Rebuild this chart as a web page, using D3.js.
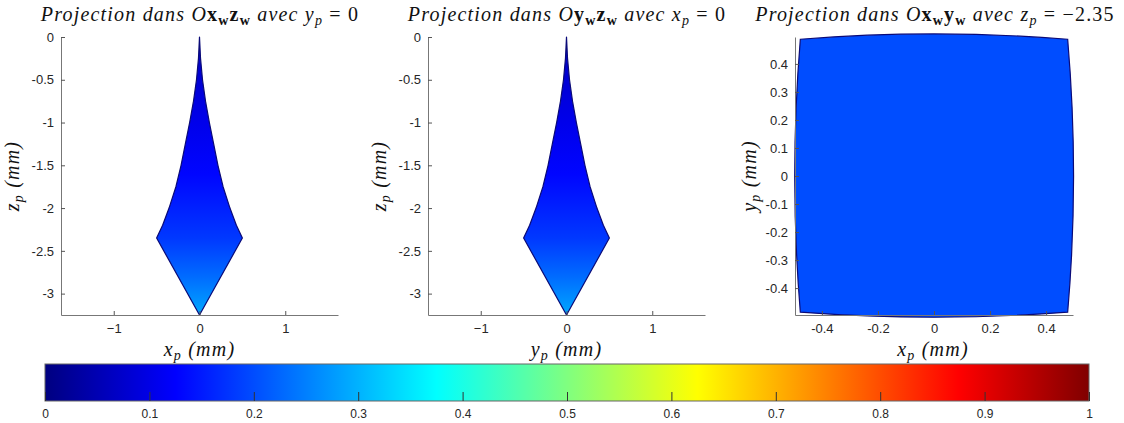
<!DOCTYPE html>
<html>
<head>
<meta charset="utf-8">
<script src="https://cdn.jsdelivr.net/npm/d3@7"></script>
<style>
  body { margin: 0; background: #fff; }
  .tick text { font-family: "Liberation Sans", Arial, sans-serif; font-size: 13px; fill: #262626; }
  .tex { font-family: "Liberation Serif", "DejaVu Serif", serif; fill: #111; }
</style>
</head>
<body>
<div id="graph"></div>
<script>
// jet colormap stops
var jetStops = [[0, '#000080'], [0.125, '#0000ff'], [0.375, '#00ffff'], [0.625, '#ffff00'], [0.875, '#ff0000'], [1, '#800000']]

// profile of the spindle shape: [z, half width]
var profile = [[0, 0], [-0.25, 0.012], [-0.5, 0.035], [-0.75, 0.07], [-1, 0.115], [-1.25, 0.165],
  [-1.5, 0.215], [-1.75, 0.275], [-2, 0.355], [-2.2, 0.43], [-2.35, 0.5], [-3.25, 0]]
// colour value along z
var zColor = [[0, 0.06], [-1, 0.105], [-1.6, 0.13], [-2.35, 0.18], [-2.8, 0.23], [-3.25, 0.29]]

// top section at z = -2.35: corners and edge middles
var sqCorners = [[-0.477, 0.488], [0.477, 0.488], [0.477, -0.486], [-0.477, -0.486]]
var sqMids = [[0, 0.507], [0.498, 0], [0, -0.504], [-0.497, 0]]
var sqValue = 0.2

var zTicks = [0, -0.5, -1, -1.5, -2, -2.5, -3]
var xTicks1 = [-1, 0, 1]
var yTicks3 = [-0.4, -0.3, -0.2, -0.1, 0, 0.1, 0.2, 0.3, 0.4]
var xTicks3 = [-0.4, -0.2, 0, 0.2, 0.4]
var cbTicks = [0, 0.1, 0.2, 0.3, 0.4, 0.5, 0.6, 0.7, 0.8, 0.9, 1]

var jet = d3.scaleLinear().domain(jetStops.map(d => d[0])).range(jetStops.map(d => d[1]))

var W = 1124, H = 423
var svg = d3.select('#graph').append('svg').attr('width', W).attr('height', H)
var defs = svg.append('defs')

function styleAxis(g) {
  g.select('.domain').attr('stroke', '#777').attr('stroke-width', 1)
  g.selectAll('.tick line').attr('stroke', '#555')
}

// title with math-ish pieces: [text, style]
function title(x, parts) {
  var t = svg.append('text').attr('class', 'tex').attr('x', x).attr('y', 21)
    .attr('text-anchor', 'middle').style('font-size', '20px').style('letter-spacing', '1.2px')
  parts.forEach(p => {
    var s = t.append('tspan').text(p[0])
    if (p[1].includes('i')) s.style('font-style', 'italic')
    if (p[1].includes('b')) s.style('font-weight', 'bold')
    if (p[1].includes('s')) s.style('font-size', '14px').attr('dy', 4)
    if (p[1].includes('u')) s.attr('dy', -4)
  })
}

function axisLabel(x, y, letter, rot) {
  var t = svg.append('text').attr('class', 'tex')
    .attr('transform', `translate(${x},${y})` + (rot ? ' rotate(-90)' : ''))
    .attr('text-anchor', 'middle').style('font-size', '20px').style('font-style', 'italic')
    .style('letter-spacing', '1.2px')
  t.append('tspan').text(letter)
  t.append('tspan').text('p').style('font-size', '14px').attr('dy', 4)
  t.append('tspan').text(' (mm)').attr('dy', -4)
}

function spindlePanel(left, id, xl) {
  var x = d3.scaleLinear().domain([-1.615, 1.615]).range([left, left + 277])
  var y = d3.scaleLinear().domain([-3.25, 0]).range([315, 37])

  var gr = defs.append('linearGradient').attr('id', id).attr('gradientUnits', 'userSpaceOnUse')
    .attr('x1', 0).attr('x2', 0).attr('y1', y(0)).attr('y2', y(-3.25))
  gr.selectAll('stop').data(zColor).join('stop')
    .attr('offset', d => (y(d[0]) - y(0)) / (y(-3.25) - y(0)))
    .attr('stop-color', d => jet(d[1]))

  var pts = profile.map(d => [d[1], d[0]])
    .concat(profile.slice(1, -1).reverse().map(d => [-d[1], d[0]]))
  svg.append('path')
    .attr('d', d3.line().x(d => x(d[0])).y(d => y(d[1]))(pts) + 'Z')
    .attr('fill', `url(#${id})`).attr('stroke', '#0a0a78').attr('stroke-width', 1.2)
    .attr('stroke-linejoin', 'round')

  svg.append('g').attr('transform', 'translate(0,315)')
    .call(d3.axisBottom(x).tickValues(xTicks1).tickSize(-4).tickSizeOuter(0).tickPadding(9).tickFormat(d3.format('')))
    .call(styleAxis)
  svg.append('g').attr('transform', `translate(${left},0)`)
    .call(d3.axisLeft(y).tickValues(zTicks).tickSize(-4).tickSizeOuter(0).tickPadding(7).tickFormat(d => String(d)))
    .call(styleAxis)

  axisLabel(x(0), 356, xl, false)
  axisLabel(left - 42, y(-1.625), 'z', true)
}

spindlePanel(61, 'g1', 'x')
spindlePanel(428, 'g2', 'y')

// third panel: section
var x3 = d3.scaleLinear().domain([-0.496, 0.496]).range([795, 1073])
var y3 = d3.scaleLinear().domain([-0.496, 0.496]).range([315, 37])
var sp = d3.path()
sqCorners.forEach((c, i) => {
  var n = sqCorners[(i + 1) % 4], m = sqMids[i]
  var cx = 2 * x3(m[0]) - (x3(c[0]) + x3(n[0])) / 2
  var cy = 2 * y3(m[1]) - (y3(c[1]) + y3(n[1])) / 2
  if (i == 0) sp.moveTo(x3(c[0]), y3(c[1]))
  sp.quadraticCurveTo(cx, cy, x3(n[0]), y3(n[1]))
})
sp.closePath()
svg.append('path').attr('d', sp.toString())
  .attr('fill', jet(sqValue)).attr('stroke', '#0a0a78').attr('stroke-width', 1.2)

svg.append('g').attr('transform', 'translate(0,315)')
  .call(d3.axisBottom(x3).tickValues(xTicks3).tickSize(-4).tickSizeOuter(0).tickPadding(9).tickFormat(d => String(d)))
  .call(styleAxis)
svg.append('g').attr('transform', 'translate(795,0)')
  .call(d3.axisLeft(y3).tickValues(yTicks3).tickSize(-4).tickSizeOuter(0).tickPadding(7).tickFormat(d => String(d)))
  .call(styleAxis)
axisLabel(933, 356, 'x', false)
axisLabel(756, 176, 'y', true)

title(200, [['Projection dans O', 'i'], ['x', 'b'], ['w', 'bs'], ['z', 'bu'], ['w', 'bs'], [' avec y', 'iu'], ['p', 'is'], [' = 0', 'u']])
title(567, [['Projection dans O', 'i'], ['y', 'b'], ['w', 'bs'], ['z', 'bu'], ['w', 'bs'], [' avec x', 'iu'], ['p', 'is'], [' = 0', 'u']])
title(935, [['Projection dans O', 'i'], ['x', 'b'], ['w', 'bs'], ['y', 'bu'], ['w', 'bs'], [' avec z', 'iu'], ['p', 'is'], [' = \u22122.35', 'u']])

// colorbar
var cb = d3.scaleLinear().domain([0, 1]).range([45, 1089])
var cg = defs.append('linearGradient').attr('id', 'jet')
cg.selectAll('stop').data(jetStops).join('stop')
  .attr('offset', d => d[0]).attr('stop-color', d => d[1])
svg.append('rect').attr('x', cb(0)).attr('y', 364).attr('width', cb(1) - cb(0)).attr('height', 37)
  .attr('fill', 'url(#jet)').attr('stroke', '#666').attr('stroke-width', 1)
svg.append('g').attr('transform', 'translate(0,401)')
  .call(d3.axisBottom(cb).tickValues(cbTicks).tickSize(-9).tickSizeOuter(0).tickPadding(8).tickFormat(d => String(d)))
  .call(g => g.select('.domain').remove())
  .call(g => g.selectAll('.tick line').attr('stroke', '#333'))
  .call(g => g.selectAll('.tick text').style('font-size', '12px'))
</script>
</body>
</html>
